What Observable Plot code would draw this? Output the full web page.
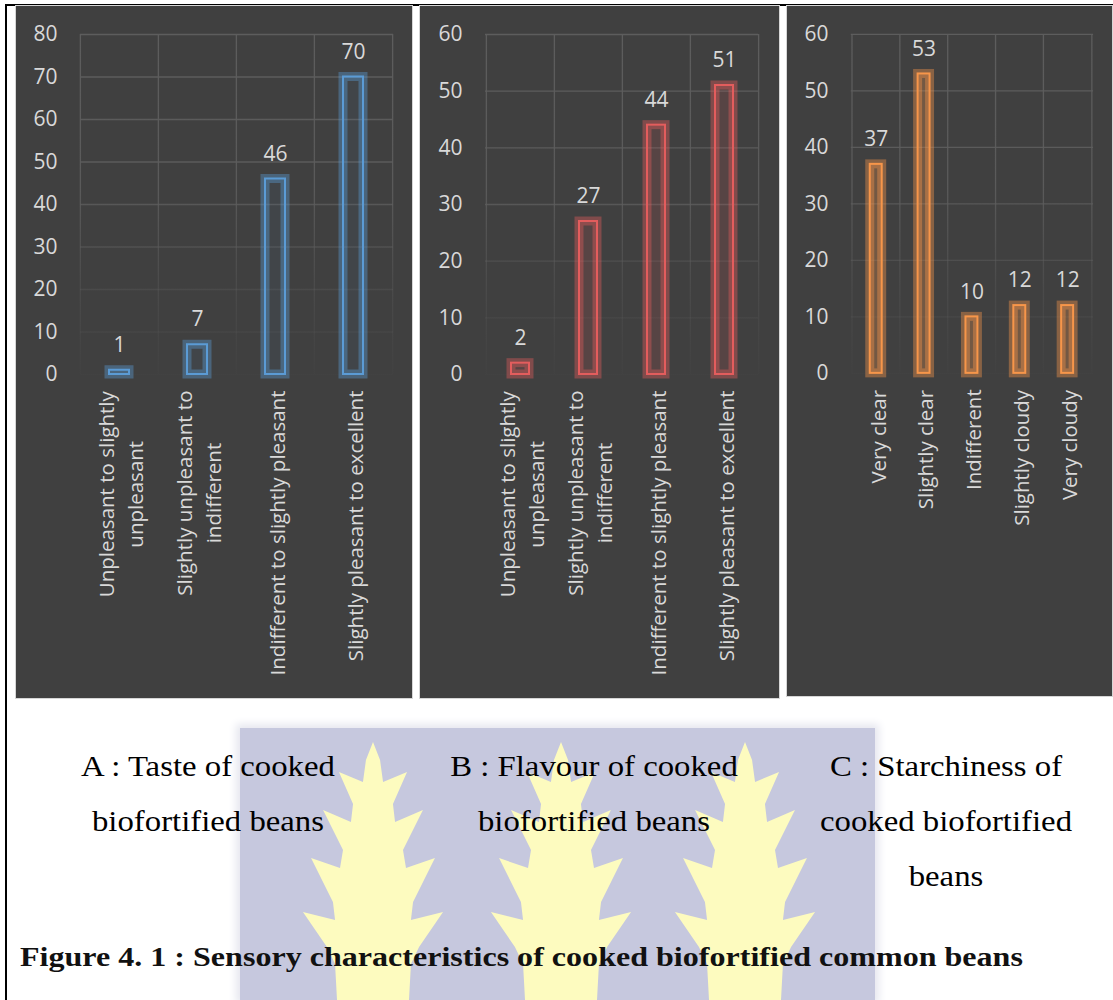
<!DOCTYPE html>
<html>
<head>
<meta charset="utf-8">
<script src="https://cdn.jsdelivr.net/npm/d3@7"></script>
<script src="https://cdn.jsdelivr.net/npm/@observablehq/plot@0.6"></script>
<style>
  html, body { margin: 0; padding: 0; background: #fff; }
  body { width: 1113px; height: 1000px; position: relative; overflow: hidden; }
  .line { position: absolute; background: #000; }
  .panel { position: absolute; top: 5px; border: 1px solid #d6d6d6; background: #404040; }
  .panel svg { display: block; }
  #wm { position: absolute; left: 240px; top: 728px; width: 635px; height: 272px; background: #c6c8de;
        box-shadow: 0 0 8px 4px #e6e7ef; }
  .flame { position: absolute; top: 742px; width: 150px; height: 258px; background: #fdfbbf; }
  .cap { position: absolute; font-family: "Liberation Serif", "Times New Roman", serif; font-size: 29px;
         line-height: 55px; text-align: center; color: #000; width: 320px;
         transform: scaleX(1.13); transform-origin: 50% 0; }
  #title { position: absolute; left: 20px; top: 937px; font-family: "Liberation Serif", "Times New Roman", serif;
           font-weight: bold; font-size: 28px; line-height: 40px; color: #111; white-space: nowrap;
           transform: scaleX(1.145); transform-origin: 0 0; }
</style>
</head>
<body>
<div class="line" style="left:5px;top:4px;width:1108px;height:2px"></div>
<div class="line" style="left:5px;top:4px;width:2px;height:996px"></div>

<div id="wm"></div>
<div class="flame" id="f1" style="left:298px"></div>
<div class="flame" id="f2" style="left:486px"></div>
<div class="flame" id="f3" style="left:670px"></div>

<div class="panel" id="pA" style="left:15px"></div>
<div class="panel" id="pB" style="left:419px"></div>
<div class="panel" id="pC" style="left:786px"></div>

<div class="cap" style="left:48px;top:739px">A : Taste of cooked<br>biofortified beans</div>
<div class="cap" style="left:434px;top:739px">B : Flavour of cooked<br>biofortified beans</div>
<div class="cap" style="left:786px;top:739px">C : Starchiness of<br>cooked biofortified<br>beans</div>
<div id="title">Figure 4. 1 : Sensory characteristics of cooked biofortified common beans</div>

<script>
// ---------- data ----------
const tasteCategories = [
  "Unpleasant to slightly\nunpleasant",
  "Slightly unpleasant to\nindifferent",
  "Indifferent to slightly pleasant",
  "Slightly pleasant to excellent"
];
const tasteCounts = [1, 7, 46, 70];

const flavourCategories = [
  "Unpleasant to slightly\nunpleasant",
  "Slightly unpleasant to\nindifferent",
  "Indifferent to slightly pleasant",
  "Slightly pleasant to excellent"
];
const flavourCounts = [2, 27, 44, 51];

const starchCategories = ["Very clear", "Slightly clear", "Indifferent", "Slightly cloudy", "Very cloudy"];
const starchCounts = [37, 53, 10, 12, 12];

const ticks80 = [0, 10, 20, 30, 40, 50, 60, 70, 80];
const ticks60 = [0, 10, 20, 30, 40, 50, 60];

// ---------- watermark decoration ----------
const flameOutline = [[0,0],[7,18],[10,40],[34,30],[20,62],[22,80],[50,68],[30,108],[33,126],[62,116],[40,160],[38,178],[70,170],[46,205],[38,222],[36,258]];
const flamePoly = flameOutline.map(([dx,y]) => `${((75+dx)/150*100).toFixed(1)}% ${(y/258*100).toFixed(1)}%`)
  .concat(flameOutline.slice().reverse().map(([dx,y]) => `${((75-dx)/150*100).toFixed(1)}% ${(y/258*100).toFixed(1)}%`));
for (const id of ["f1","f2","f3"]) document.getElementById(id).style.clipPath = `polygon(${flamePoly.join(",")})`;

// ---------- chart builder ----------
function panel({id, categories, counts, ticks, color, fillOpacity, width, marginLeft, marginRight}) {
  const data = categories.map((c, i) => ({category: c, count: counts[i]}));
  const ymax = d3.max(ticks);
  const height = 692, marginTop = 28, marginBottom = 324;
  const step = (width - marginLeft - marginRight) / categories.length;
  const gridStroke = `url(#grid-${id})`;
  const defs = (index, scales) => {
    const d = d3.create("svg:defs");
    const g = d.append("linearGradient").attr("id", `grid-${id}`)
      .attr("gradientUnits", "userSpaceOnUse")
      .attr("x1", 0).attr("x2", 0).attr("y1", scales.y(ymax)).attr("y2", scales.y(0));
    [[0, 1], [0.45, 0.9], [0.75, 0.35], [1, 0.05]].forEach(([o, a]) =>
      g.append("stop").attr("offset", o).attr("stop-color", "#5d5d5d").attr("stop-opacity", a));
    const f = d.append("filter").attr("id", `glow-${id}`)
      .attr("x", "-100%").attr("y", "-20%").attr("width", "300%").attr("height", "140%");
    f.append("feGaussianBlur").attr("stdDeviation", 3.5);
    return d.node();
  };
  const svg = Plot.plot({
    width, height, marginLeft, marginRight, marginTop, marginBottom,
    style: {background: "#404040", color: "#d9d9d9", fontFamily: "'Open Sans', sans-serif", fontSize: "21px", overflow: "visible"},
    x: {domain: categories, paddingInner: 0.74, paddingOuter: 0.37, label: null},
    y: {domain: [0, ymax], label: null},
    marks: [
      defs,
      Plot.ruleY(ticks, {stroke: gridStroke, strokeWidth: 1.3}),
      Plot.ruleX(categories, {y1: 0, y2: ymax, dx: -step / 2, stroke: gridStroke, strokeWidth: 1.3}),
      Plot.ruleX(categories.slice(-1), {y1: 0, y2: ymax, dx: step / 2, stroke: gridStroke, strokeWidth: 1.3}),
      Plot.barY(data, {x: "category", y: "count", fill: "none", stroke: color, strokeOpacity: 0.4, strokeWidth: 9, ariaLabel: "glow"}),
      Plot.barY(data, {x: "category", y: "count", fill: color, fillOpacity, stroke: color, strokeWidth: 2}),
      Plot.text(data, {x: "category", y: "count", text: d => String(d.count), dy: -25, fill: "#d9d9d9", fontSize: 21}),
      Plot.axisY({ticks, tickSize: 0, tickPadding: 23, fontSize: 21, label: null}),
      Plot.axisX({tickSize: 0, tickPadding: 16, tickRotate: -90, textAnchor: "middle", lineAnchor: "middle", lineHeight: 1.42, fontSize: 20.5, label: null})
    ]
  });
  document.getElementById(id).appendChild(svg);
  d3.select(svg).selectAll('g[aria-label="glow"]').attr("filter", `url(#glow-${id})`);
  // Place rotated category labels so their top end sits just under the baseline, lines centred.
  d3.select(svg).selectAll('g[aria-label="x-axis tick label"]').attr("text-anchor", "middle");
  d3.select(svg).selectAll('g[aria-label="x-axis tick label"] text').each(function() {
    const b = this.getBBox();
    const t = this.getAttribute("transform") || "";
    this.setAttribute("transform", `${t} translate(${-(b.x + b.width)},0)`);
  });
}

panel({id: "pA", categories: tasteCategories, counts: tasteCounts, ticks: ticks80,
       color: "#5b9bd5", fillOpacity: 0.06, width: 396, marginLeft: 64, marginRight: 19});
panel({id: "pB", categories: flavourCategories, counts: flavourCounts, ticks: ticks60,
       color: "#e35d5d", fillOpacity: 0.14, width: 359, marginLeft: 65, marginRight: 21});
panel({id: "pC", categories: starchCategories, counts: starchCounts, ticks: ticks60,
       color: "#f7964a", fillOpacity: 0.28, width: 326, marginLeft: 64, marginRight: 19});
</script>
</body>
</html>
